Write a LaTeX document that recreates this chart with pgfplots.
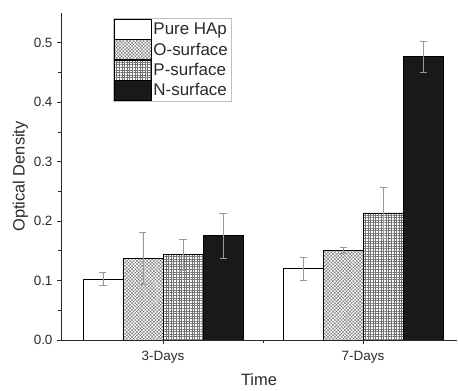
\documentclass[border=0pt]{standalone}
\usepackage{fontspec}
\setmainfont{Liberation Sans}
\usepackage{pgfplots}
\pgfplotsset{compat=1.18}
\usetikzlibrary{patterns.meta}
\definecolor{txt}{HTML}{2a2a2a}
\pgfplotsset{
  mylegend/.style={legend image code/.code={\draw[#1] (0bp,-10bp) rectangle (37bp,10bp);}},
  myerr/.style={error bars/.cd, y dir=both, y explicit,
    error bar style={gray!80, line width=0.45pt},
    error mark options={rotate=90, mark size=3.5bp, gray!80, line width=0.45pt}},
}
\begin{document}
\begin{tikzpicture}
\begin{axis}[
  at={(0,0)}, anchor=south west,
  scale only axis, width=396bp, height=327bp,
  ybar=0pt, bar width=0.2,
  xmin=0.49, xmax=2.47, ymin=0, ymax=0.55,
  axis x line=bottom, axis y line=left,
  axis line style={-, txt, line width=0.8pt},
  xtick={1,2}, xticklabels={3-Days,7-Days}, minor xtick={1.5},
  ytick={0,0.1,0.2,0.3,0.4,0.5}, minor y tick num=1,
  tick align=outside, major tick length=4bp, minor tick length=3bp,
  tick style={txt, line width=0.8pt},
  /pgf/number format/assume math mode=true,
  yticklabel style={/pgf/number format/fixed, /pgf/number format/precision=1, /pgf/number format/fixed zerofill, xshift=-1bp},
  xticklabel style={yshift=-4bp},
  ticklabel style={font=\fontsize{13.5}{15}\selectfont, text=txt},
  xlabel={Time}, ylabel={Optical Density},
  xlabel style={yshift=-3bp},
  ylabel style={yshift=-1bp},
  label style={font=\fontsize{16.5}{18}\selectfont, text=txt},
  legend style={at={(0.131,0.985)}, anchor=north west, draw=gray!50, font=\fontsize{17}{18}\selectfont, text=txt, row sep=0pt, inner sep=1pt, cells={anchor=west}},
]
\addplot[draw=black, fill=white, mylegend, myerr] coordinates {(1,0.103) +- (0,0.011) (2,0.120) +- (0,0.020)};
\addplot[draw=black, pattern={Hatch[angle=45,distance=2.4pt,line width=0.35pt]}, pattern color=black!60, mylegend, myerr] coordinates {(1,0.137) +- (0,0.044) (2,0.151) +- (0,0.005)};
\addplot[draw=black, pattern={Hatch[angle=0,distance=2.6pt,line width=0.35pt]}, pattern color=black!55, mylegend, myerr] coordinates {(1,0.144) +- (0,0.026) (2,0.214) +- (0,0.043)};
\addplot[draw=black, fill=black!90, mylegend, myerr] coordinates {(1,0.176) +- (0,0.038) (2,0.477) +- (0,0.026)};
\legend{Pure HAp, O-surface, P-surface, N-surface}
\end{axis}
\pgfresetboundingbox
\path (-61bp,-51bp) rectangle (397bp,340bp);
\end{tikzpicture}
\end{document}
